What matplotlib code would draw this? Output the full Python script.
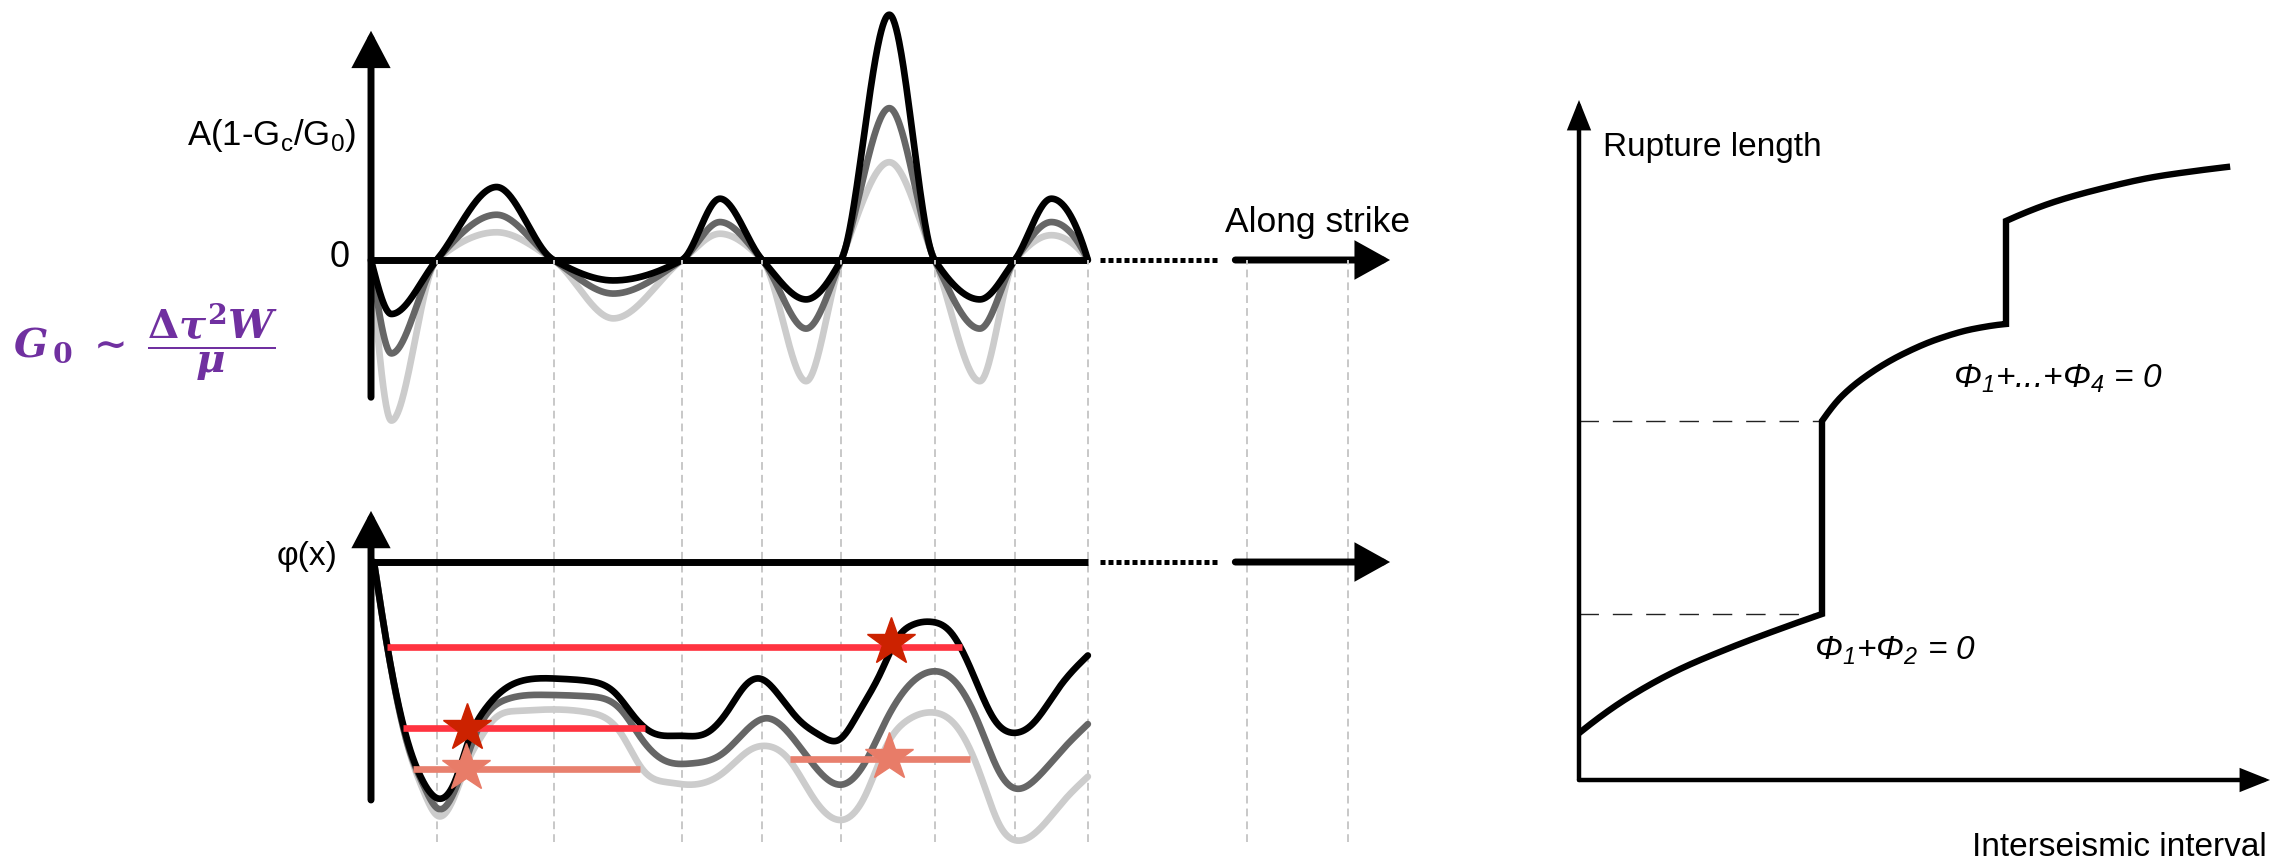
import numpy as np
import matplotlib
matplotlib.use('Agg')
import matplotlib.pyplot as plt

# ---- data ----
# top panel: zero crossings along strike and the extremum of each lobe
strike_nodes = [0, 45, 125, 213, 268, 322, 386, 441, 491]
lobe_x = [14, 86, 166, 239, 298, 355, 417, 466]
amp_black = [-37, 50, -14, 42, -27, 168, -27, 42]
amp_gray = [-64, 31, -23, 26, -47, 104, -47, 26]
amp_light = [-110, 19, -40, 18, -83, 67, -83, 17]

# bottom panel: phi(x)
phi_x_black = [2, 11, 26, 35, 46, 58, 67, 78, 93, 111, 130, 149, 167, 182, 193, 212,
               230, 245, 256, 267, 278, 293, 308, 321, 334, 349, 360, 371, 384, 397,
               412, 427, 440, 453, 472, 491]
phi_black = [163, 106, 37, 14, 1, 14, 41, 62, 77, 83, 83, 81.5, 73.5, 55, 46, 44,
             46, 62, 78, 83, 73.5, 55, 44, 41.5, 60, 87, 110, 120, 122, 115,
             87, 55, 46, 52, 78, 99]
phi_x_gray = [2, 11, 26, 36, 46, 58, 66, 74, 93, 119, 149, 171, 186, 200, 219, 241,
              260, 271, 286, 304, 322, 338, 353, 368, 384, 401, 416, 431, 441, 457,
              475, 491]
phi_gray = [163, 106, 35, 10, -6, 8, 30, 50, 69, 72, 71, 62, 41, 27.6, 25, 32,
            50.5, 56, 46, 23, 10.5, 25, 55, 78, 88, 80, 53, 18, 8, 16, 36, 52]
phi_x_light = [2, 11, 26, 36, 46, 57, 67, 74, 85, 100, 123, 149, 171, 186, 204, 219,
               241, 260, 271, 286, 304, 322, 338, 353, 368, 384, 401, 416, 431, 441,
               457, 475, 491]
phi_light = [163, 106, 34, 6, -11, 2, 28, 41, 56, 61, 62, 60, 46, 21, 12, 10.5,
             18.5, 34.5, 37, 28, 0, -13.7, 2, 37, 55, 60, 50.5, 21, -18, -27.5,
             -20.7, 0, 16]
phi_top = 163

# thresholds (red bars) and nucleation stars
bar_x0 = [11, 22, 29, 287]
bar_x1 = [405, 188, 184, 410]
bar_level = [105, 49, 21, 28]
star_x = [356, 66, 65, 355]
star_y = [108, 49, 22, 29.5]

# extra along-strike marks beyond the drawn section
far_marks = [600, 669]

# right panel: rupture length vs interseismic interval
seg1_t = [0.015, 0.47, 0.97, 1.48, 1.98, 2.43]
seg1_L = [0.48, 0.81, 1.09, 1.31, 1.50, 1.66]
seg2_t = [2.43, 2.63, 2.93, 3.24, 3.59, 3.94, 4.27]
seg2_L = [3.59, 3.84, 4.08, 4.26, 4.41, 4.51, 4.56]
seg3_t = [4.27, 4.75, 5.25, 5.75, 6.16, 6.48]
seg3_L = [5.59, 5.78, 5.92, 6.03, 6.09, 6.13]


def pchip(xk, yk, n=400):
    # monotone cubic through the read points, for drawing only
    xk = np.asarray(xk, float)
    yk = np.asarray(yk, float)
    h = np.diff(xk)
    d = np.diff(yk) / h
    m = np.zeros_like(yk)
    for k in range(1, len(xk) - 1):
        if d[k - 1] * d[k] > 0:
            w1 = 2 * h[k] + h[k - 1]
            w2 = h[k] + 2 * h[k - 1]
            m[k] = (w1 + w2) / (w1 / d[k - 1] + w2 / d[k])

    def end(h0, h1, d0, d1):
        s = ((2 * h0 + h1) * d0 - h0 * d1) / (h0 + h1)
        if np.sign(s) != np.sign(d0):
            s = 0.0
        elif np.sign(d0) != np.sign(d1) and abs(s) > abs(3 * d0):
            s = 3 * d0
        return s

    m[0] = end(h[0], h[1], d[0], d[1])
    m[-1] = end(h[-1], h[-2], d[-1], d[-2])
    xs = np.linspace(xk[0], xk[-1], n)
    i = np.clip(np.searchsorted(xk, xs) - 1, 0, len(h) - 1)
    t = (xs - xk[i]) / h[i]
    ys = ((2 * t**3 - 3 * t**2 + 1) * yk[i] + (t**3 - 2 * t**2 + t) * h[i] * m[i]
          + (-2 * t**3 + 3 * t**2) * yk[i + 1] + (t**3 - t**2) * h[i] * m[i + 1])
    return xs, ys


def spline(xk, yk, n=800):
    # natural cubic spline through the read points, for drawing only
    xk = np.asarray(xk, float)
    yk = np.asarray(yk, float)
    N = len(xk)
    h = np.diff(xk)
    d = np.diff(yk) / h
    A = np.zeros((N, N))
    r = np.zeros(N)
    A[0, 0] = A[-1, -1] = 1
    for k in range(1, N - 1):
        A[k, k - 1] = h[k - 1]
        A[k, k] = 2 * (h[k - 1] + h[k])
        A[k, k + 1] = h[k]
        r[k] = 6 * (d[k] - d[k - 1])
    M = np.linalg.solve(A, r)
    xs = np.linspace(xk[0], xk[-1], n)
    i = np.clip(np.searchsorted(xk, xs) - 1, 0, N - 2)
    a = xk[i + 1] - xs
    b = xs - xk[i]
    hi = h[i]
    ys = (M[i] * a**3 / (6 * hi) + M[i + 1] * b**3 / (6 * hi)
          + (yk[i] / hi - M[i] * hi / 6) * a + (yk[i + 1] / hi - M[i + 1] * hi / 6) * b)
    return xs, ys


def lobes(amps):
    xs, ys = [strike_nodes[0]], [0.0]
    for k, a in enumerate(amps):
        xs += [lobe_x[k], strike_nodes[k + 1]]
        ys += [a, 0.0]
    return pchip(xs, ys, 1000)


plt.rcParams['font.family'] = ['Liberation Sans', 'DejaVu Sans']
plt.rcParams['mathtext.rm'] = 'DejaVu Serif:bold'
plt.rcParams['mathtext.it'] = 'DejaVu Serif:italic:bold'
plt.rcParams['mathtext.bf'] = 'DejaVu Serif:bold'

W, H = 2289, 860
fig = plt.figure(figsize=(W / 100, H / 100), dpi=100)


def px_axes(x0, y0, x1, y1):
    ax = fig.add_axes([x0 / W, 1 - y1 / H, (x1 - x0) / W, (y1 - y0) / H])
    ax.axis('off')
    return ax


S = 1.46  # pixels per along-strike unit
ax1 = px_axes(371, 26, 1400, 436)
ax1.set_xlim(0, 1029 / S)
ax1.set_ylim(-(436 - 260) / S, (260 - 26) / S)
ax2 = px_axes(371, 500, 1400, 850)
ax2.set_xlim(0, 1029 / S)
ax2.set_ylim(-(850 - 800) / S, (800 - 500) / S)
ax3 = px_axes(1579, 60, 2289, 800)
ax3.set_xlim(0, 7.10)
ax3.set_ylim(-0.2, 7.2)


def arrow(ax, start, tip, lw, hl, hw, ms=20):
    ax.annotate('', xy=tip, xytext=start, annotation_clip=False,
                arrowprops=dict(arrowstyle='-|>,head_length=%g,head_width=%g' % (hl, hw),
                                lw=lw, color='black', shrinkA=0, shrinkB=0,
                                mutation_scale=ms, joinstyle='miter'))


# dashed guides through both panels
for xv in strike_nodes[1:] + far_marks:
    ax2.plot([xv, xv], [-29, (800 - 260) / S], color='#c8c8c8', lw=1.4,
             ls=(0, (4, 2.6)), clip_on=False, zorder=0)

# ---- top panel ----
for amps, col in [(amp_light, '#cccccc'), (amp_gray, '#666666'), (amp_black, 'black')]:
    xs, ys = lobes(amps)
    ax1.plot(xs, ys, color=col, lw=4.8, clip_on=False, solid_capstyle='round', zorder=2)
ax1.plot([0, strike_nodes[-1]], [0, 0], color='black', lw=5, zorder=4,
         solid_capstyle='butt')
ax1.plot([499, 580], [0, 0], color='black', lw=3.6, ls=(0, (1, 0.6)),
         dash_capstyle='butt', zorder=4)
arrow(ax1, (592, 0), (698, 0), 5, 0.9, 0.5)
arrow(ax1, (0, -94), (0, 157), 5, 0.95, 0.5)

# ---- bottom panel ----
for px_, py_, col in [(phi_x_light, phi_light, '#cccccc'),
                      (phi_x_gray, phi_gray, '#666666'),
                      (phi_x_black, phi_black, 'black')]:
    xs, ys = spline(px_, py_, 1000)
    ax2.plot(xs, ys, color=col, lw=4.8, solid_capstyle='round', zorder=2)
ax2.plot([0, strike_nodes[-1]], [phi_top, phi_top], color='black', lw=5, zorder=4,
         solid_capstyle='butt')
ax2.plot([499, 580], [phi_top, phi_top], color='black', lw=3.6, ls=(0, (1, 0.6)),
         dash_capstyle='butt', zorder=4)
arrow(ax2, (592, phi_top), (698, phi_top), 5, 0.9, 0.5)
arrow(ax2, (0, 0), (0, 198), 5, 0.95, 0.5)

bar_cols = ['#ff3340', '#ff3340', '#e8806e', '#e8806e']
star_cols = ['#cc2200', '#cc2200', '#e87c68', '#e87c68']
for x0, x1, lv, c in zip(bar_x0, bar_x1, bar_level, bar_cols):
    ax2.plot([x0, x1], [lv, lv], color=c, lw=4.8, solid_capstyle='butt', zorder=5)
for sx, sy, c in zip(star_x, star_y, star_cols):
    ax2.plot(sx, sy, marker='*', ms=36, color=c, mec=c, zorder=6)

# ---- right panel ----
ts, Ls = [], []
for st, sL in [(seg1_t, seg1_L), (seg2_t, seg2_L), (seg3_t, seg3_L)]:
    xs, ys = pchip(st, sL, 300)
    ts.append(xs)
    Ls.append(ys)
ax3.plot(np.concatenate(ts), np.concatenate(Ls), color='black', lw=4.6,
         solid_joinstyle='miter', zorder=3)
for lv in [seg1_L[-1], seg2_L[0]]:
    ax3.plot([0, seg1_t[-1]], [lv, lv], color='#222222', lw=1.0, ls=(0, (14, 10)), zorder=1)
arrow(ax3, (0, 0), (6.91, 0), 3.2, 0.8, 0.32)
arrow(ax3, (0, 0), (0, 6.8), 3.2, 0.8, 0.32)

# ---- texts ----
def ftext(x, y, s, **kw):
    return fig.text(x / W, 1 - y / H, s, **kw)


ftext(356, 145, r'A(1-G$_\mathregular{c}$/G$_\mathregular{0}$)', ha='right',
      va='baseline', fontsize=25)
ftext(350, 267, '0', ha='right', va='baseline', fontsize=26)
ftext(1225, 232, 'Along strike', ha='left', va='baseline', fontsize=25.5)
ftext(338, 557, 'φ(x)', ha='right', va='center', fontsize=24)
ftext(13, 342, r'$G_{\,0}\;\sim\;\dfrac{\Delta\tau^2W}{\mu}$', ha='left', va='center',
      fontsize=29, color='#7030a0', math_fontfamily='custom')

ftext(1603, 156, 'Rupture length', ha='left', va='baseline', fontsize=24)
ftext(2267, 856, 'Interseismic interval', ha='right', va='baseline', fontsize=24)
ftext(1814, 659, r'Φ$_\mathregular{1}$+Φ$_\mathregular{2}$ = 0', ha='left',
      va='baseline', fontsize=24, style='italic')
ftext(1953, 387, r'Φ$_\mathregular{1}$+...+Φ$_\mathregular{4}$ = 0', ha='left',
      va='baseline', fontsize=24, style='italic')

fig.savefig('out.png', dpi=100, facecolor='white')
